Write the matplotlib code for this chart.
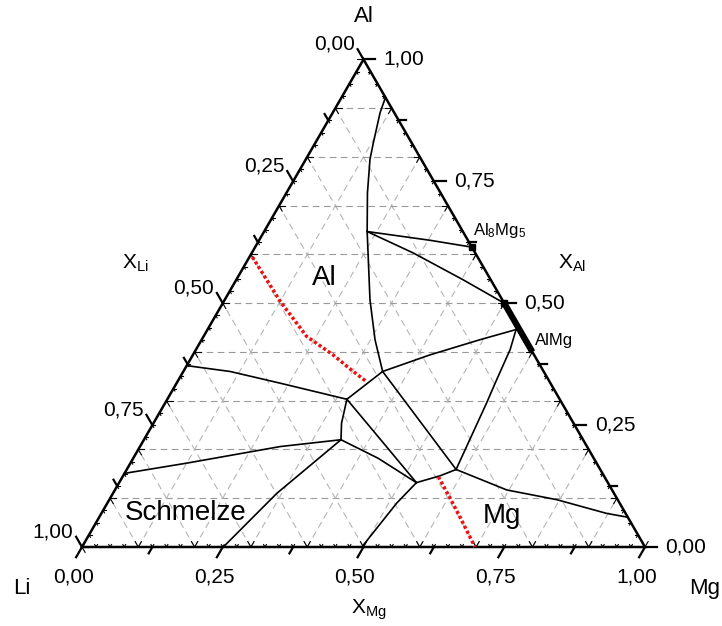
import numpy as np
import matplotlib.pyplot as plt

plt.rcParams['font.family'] = ['Liberation Sans', 'DejaVu Sans']
plt.rcParams['mathtext.fontset'] = 'custom'
plt.rcParams['mathtext.rm'] = 'Liberation Sans'
plt.rcParams['mathtext.it'] = 'Liberation Sans'

# Phase boundaries, as (x_Mg, x_Al) pairs
al_boundary = [(0.078, 0.922), (0.084, 0.891), (0.103, 0.829), (0.114, 0.795),
               (0.144, 0.726), (0.183, 0.647), (0.258, 0.507), (0.308, 0.425),
               (0.354, 0.360)]
to_al8mg5 = [(0.183, 0.647), (0.304, 0.629), (0.385, 0.615)]
to_almg = [(0.183, 0.647), (0.287, 0.603), (0.403, 0.548), (0.500, 0.500)]
a_to_f = [(0.354, 0.360), (0.421, 0.394), (0.494, 0.425), (0.548, 0.446)]
f_to_b = [(0.548, 0.446), (0.558, 0.405), (0.565, 0.343), (0.571, 0.295),
          (0.584, 0.168), (0.585, 0.159)]
b_to_edge = [(0.585, 0.159), (0.696, 0.117), (0.795, 0.097), (0.897, 0.069),
             (0.939, 0.061)]
a_to_b = [(0.354, 0.360), (0.585, 0.159)]
a_to_e = [(0.354, 0.360), (0.319, 0.303)]
e_to_edge = [(0.319, 0.303), (0.184, 0.336), (0.083, 0.360), (0.0, 0.372)]
e_to_d = [(0.319, 0.303), (0.334, 0.254), (0.350, 0.220)]
d_to_edge = [(0.350, 0.220), (0.249, 0.206), (0.100, 0.172), (0.0, 0.151)]
d_to_base = [(0.350, 0.220), (0.291, 0.110), (0.251, 0.0)]
e_to_c = [(0.319, 0.303), (0.423, 0.218), (0.528, 0.132)]
d_to_c = [(0.350, 0.220), (0.435, 0.182), (0.528, 0.132)]
c_to_b = [(0.528, 0.132), (0.563, 0.146), (0.585, 0.159)]
c_to_base = [(0.528, 0.132), (0.514, 0.090), (0.497, 0.0)]

boundaries = [al_boundary, to_al8mg5, to_almg, a_to_f, f_to_b, b_to_edge, a_to_b,
              a_to_e, e_to_edge, e_to_d, d_to_edge, d_to_base, e_to_c, d_to_c,
              c_to_b, c_to_base]

# red dotted lines
red_upper = [(0.005, 0.595), (0.100, 0.504), (0.183, 0.432), (0.249, 0.394),
             (0.297, 0.363), (0.336, 0.339)]
red_lower = [(0.561, 0.144), (0.603, 0.101), (0.642, 0.060), (0.698, 0.0)]

# compounds on the Al-Mg edge
al8mg5 = (0.385, 0.615)
almg_range = [(0.500, 0.500), (0.600, 0.400)]

tick_values = [0.0, 0.25, 0.5, 0.75, 1.0]
tick_labels = ['0,00', '0,25', '0,50', '0,75', '1,00']

SQ = np.sqrt(3) / 2


def tern(pts):
    pts = np.array(pts, dtype=float).reshape(-1, 2)
    mg, al = pts[:, 0], pts[:, 1]
    return mg + al / 2, al * SQ


def edge_point(axis, t):
    if axis == 'Mg':
        return np.array([t, 0.0])
    if axis == 'Li':
        return np.array([0.5 * (1 - t), SQ * (1 - t)])
    return np.array([1 - 0.5 * t, SQ * t])


out_dir = {'Mg': np.array([-0.5, -SQ]), 'Li': np.array([-0.5, SQ]),
           'Al': np.array([1.0, 0.0])}
in_dirs = {'Mg': [np.array([0.5, SQ]), np.array([-0.5, SQ])],
           'Li': [np.array([1.0, 0.0]), np.array([0.5, -SQ])],
           'Al': [np.array([-1.0, 0.0]), np.array([-0.5, -SQ])]}

fig = plt.figure(figsize=(7.22, 6.26), dpi=100)
ax = fig.add_axes([0, 0, 1, 1])
unit = 563.0
ax.set_xlim(-82 / unit, 640 / unit)
ax.set_ylim(-79 / unit, 547 / unit)
ax.axis('off')

# grid
for k in range(1, 10):
    v = k / 10
    x, y = tern([(0, v), (1 - v, v)])
    ax.plot(x, y, color='#999999', lw=0.8, ls=(0, (6, 4)), zorder=1)
    x, y = tern([(v, 0), (v, 1 - v)])
    ax.plot(x, y, color='#b5b5b5', lw=0.8, ls=(0, (6, 4)), zorder=1)
    x, y = tern([(1 - v, 0), (0, 1 - v)])
    ax.plot(x, y, color='#b5b5b5', lw=0.8, ls=(0, (6, 4)), zorder=1)

# triangle
x, y = tern([(0, 0), (1, 0), (0, 1), (0, 0)])
ax.plot(x, y, color='black', lw=1.8, zorder=3, solid_joinstyle='miter')

# ticks
for axis in ['Mg', 'Li', 'Al']:
    for i in range(9):
        t = i / 8
        p = edge_point(axis, t)
        ln = 0.021 if i % 2 == 0 else 0.013
        q = p + out_dir[axis] * ln
        ax.plot([p[0], q[0]], [p[1], q[1]], color='black', lw=1.6, zorder=3)
    for i in range(41):
        t = i / 40
        p = edge_point(axis, t)
        ln = 0.011 if i % 4 == 0 else 0.005
        for d in in_dirs[axis]:
            q = p + d * ln
            ax.plot([p[0], q[0]], [p[1], q[1]], color='black', lw=0.8, zorder=3)

# tick labels
for t, lab in zip(tick_values, tick_labels):
    q = edge_point('Mg', t) + out_dir['Mg'] * 0.021
    ax.annotate(lab, q, xytext=(-2, -14.5), textcoords='offset points',
                ha='center', va='center', fontsize=15)
    q = edge_point('Li', t) + out_dir['Li'] * 0.021
    ax.annotate(lab, q, xytext=(-2, 3.5), textcoords='offset points',
                ha='right', va='center', fontsize=15)
    q = edge_point('Al', t) + out_dir['Al'] * 0.021
    ax.annotate(lab, q, xytext=(6, 0), textcoords='offset points',
                ha='left', va='center', fontsize=15)

# phase boundaries
for b in boundaries:
    x, y = tern(b)
    ax.plot(x, y, color='black', lw=1.2, zorder=4)

for r in [red_upper, red_lower]:
    x, y = tern(r)
    ax.plot(x, y, color='#ee1111', lw=2.5, ls=(0, (0.9, 0.7)), zorder=5)

x, y = tern(almg_range)
ax.plot(x, y, color='black', lw=4.5, solid_capstyle='butt', zorder=5)
x, y = tern([almg_range[0]])
ax.plot(x, y, 's', color='black', ms=5, zorder=5)
x, y = tern([al8mg5])
ax.plot(x, y, 's', color='black', ms=5, zorder=5)

ax.annotate('Al$_8$Mg$_5$', (x[0], y[0]), xytext=(1, 5), textcoords='offset points',
            ha='left', va='bottom', fontsize=12)
x, y = tern([(0.600, 0.400)])
ax.annotate('AlMg', (x[0], y[0]), xytext=(2, 8), textcoords='offset points',
            ha='left', va='center', fontsize=12)

# region labels
for lab, pos in [('Al', (0.154, 0.552)), ('Schmelze', (0.149, 0.069)),
                 ('Mg', (0.714, 0.064))]:
    x, y = tern([pos])
    ax.text(x[0], y[0], lab, ha='center', va='center', fontsize=20)

# corner labels
x, y = tern([(0, 1)])
ax.annotate('Al', (x[0], y[0]), xytext=(0, 31), textcoords='offset points',
            ha='center', va='center', fontsize=16)
x, y = tern([(0, 0)])
ax.annotate('Li', (x[0], y[0]), xytext=(-43, -30), textcoords='offset points',
            ha='center', va='center', fontsize=16)
x, y = tern([(1, 0)])
ax.annotate('Mg', (x[0], y[0]), xytext=(43, -30), textcoords='offset points',
            ha='center', va='center', fontsize=16)

# axis titles
ax.text(0.094, 0.503, r'X$_{\mathregular{Li}}$', ha='center', va='center', fontsize=15)
ax.text(0.870, 0.503, r'X$_{\mathregular{Al}}$', ha='center', va='center', fontsize=15)
ax.text(0.510, -0.112, r'X$_{\mathregular{Mg}}$', ha='center', va='center', fontsize=15)

fig.savefig('out.png', dpi=100)
